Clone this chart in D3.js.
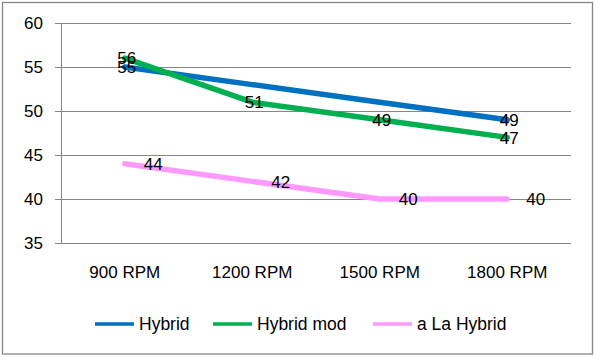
<!DOCTYPE html>
<html><head><meta charset="utf-8">
<script src="https://cdn.jsdelivr.net/npm/d3@7"></script>
<style>body{margin:0;background:#fff}svg{display:block}text{font-family:"Liberation Sans",Arial,sans-serif}</style>
</head><body><svg id="c" width="595" height="357"></svg>
<script>
const categories = ["900 RPM","1200 RPM","1500 RPM","1800 RPM"];
const seriesNames = ["Hybrid","Hybrid mod","a La Hybrid"];
const hybrid = [55,53,51,49];
const hybridMod = [56,51,49,47];
const aLaHybrid = [44,42,40,40];
const hybridLabels = [true,false,false,true];
const hybridModLabels = [true,true,true,true];
const aLaHybridLabels = [true,true,true,true];
const yTicks = [35,40,45,50,55,60];
const colors = ["#0070c0","#00b050","#ff99ff"];

const series = [
  {name:seriesNames[0], values:hybrid, labels:hybridLabels, color:colors[0], pos:"center"},
  {name:seriesNames[1], values:hybridMod, labels:hybridModLabels, color:colors[1], pos:"center"},
  {name:seriesNames[2], values:aLaHybrid, labels:aLaHybridLabels, color:colors[2], pos:"right"}
];

const svg = d3.select("#c");
svg.append("rect").attr("x",2.5).attr("y",2.5).attr("width",590).attr("height",351.5)
  .attr("fill","#fff").attr("stroke","#868686").attr("stroke-width",1.3);

const L=61, R=571, T=23, B=243;
const x = d3.scaleBand().domain(categories).range([L,R]);
const y = d3.scaleLinear().domain([35,60]).range([B,T]);

// gridlines
svg.append("g").selectAll("line").data(yTicks).join("line")
  .attr("x1",L-6).attr("x2",R).attr("y1",d=>y(d)).attr("y2",d=>y(d))
  .attr("stroke","#868686").attr("stroke-width",1).attr("shape-rendering","crispEdges");
svg.append("line").attr("x1",L).attr("x2",L).attr("y1",T).attr("y2",B)
  .attr("stroke","#868686").attr("shape-rendering","crispEdges");

// y labels
svg.append("g").selectAll("text").data(yTicks).join("text")
  .attr("x",43).attr("y",d=>y(d)).attr("dy","0.36em").attr("text-anchor","end")
  .attr("font-size",17).attr("fill","#000").text(d=>d);

// x labels
svg.append("g").selectAll("text").data(categories).join("text")
  .attr("x",d=>x(d)+x.bandwidth()/2).attr("y",278).attr("text-anchor","middle")
  .attr("font-size",17).attr("fill","#000").text(d=>d);

const line = d3.line().x((d,i)=>x(categories[i])+x.bandwidth()/2).y(d=>y(d));
series.forEach(s=>{
  svg.append("path").attr("d",line(s.values)).attr("fill","none")
    .attr("stroke",s.color).attr("stroke-width",5.5).attr("stroke-linecap","round").attr("stroke-linejoin","round");
});
series.forEach(s=>{
  s.values.forEach((v,i)=>{
    if(!s.labels[i]) return;
    const cx = x(categories[i])+x.bandwidth()/2;
    svg.append("text")
      .attr("x", s.pos==="right" ? cx+19 : cx+2)
      .attr("y", y(v)).attr("dy","0.36em")
      .attr("text-anchor", s.pos==="right" ? "start" : "middle")
      .attr("font-size",17).attr("fill","#000").text(v);
  });
});

// legend
const legX = [95,213,373];
series.forEach((s,i)=>{
  svg.append("line").attr("x1",legX[i]).attr("x2",legX[i]+39).attr("y1",324).attr("y2",324)
    .attr("stroke",s.color).attr("stroke-width",3.5);
  svg.append("text").attr("x",legX[i]+44).attr("y",324).attr("dy","0.36em")
    .attr("font-size",17.5).attr("fill","#000").text(s.name);
});
</script></body></html>
